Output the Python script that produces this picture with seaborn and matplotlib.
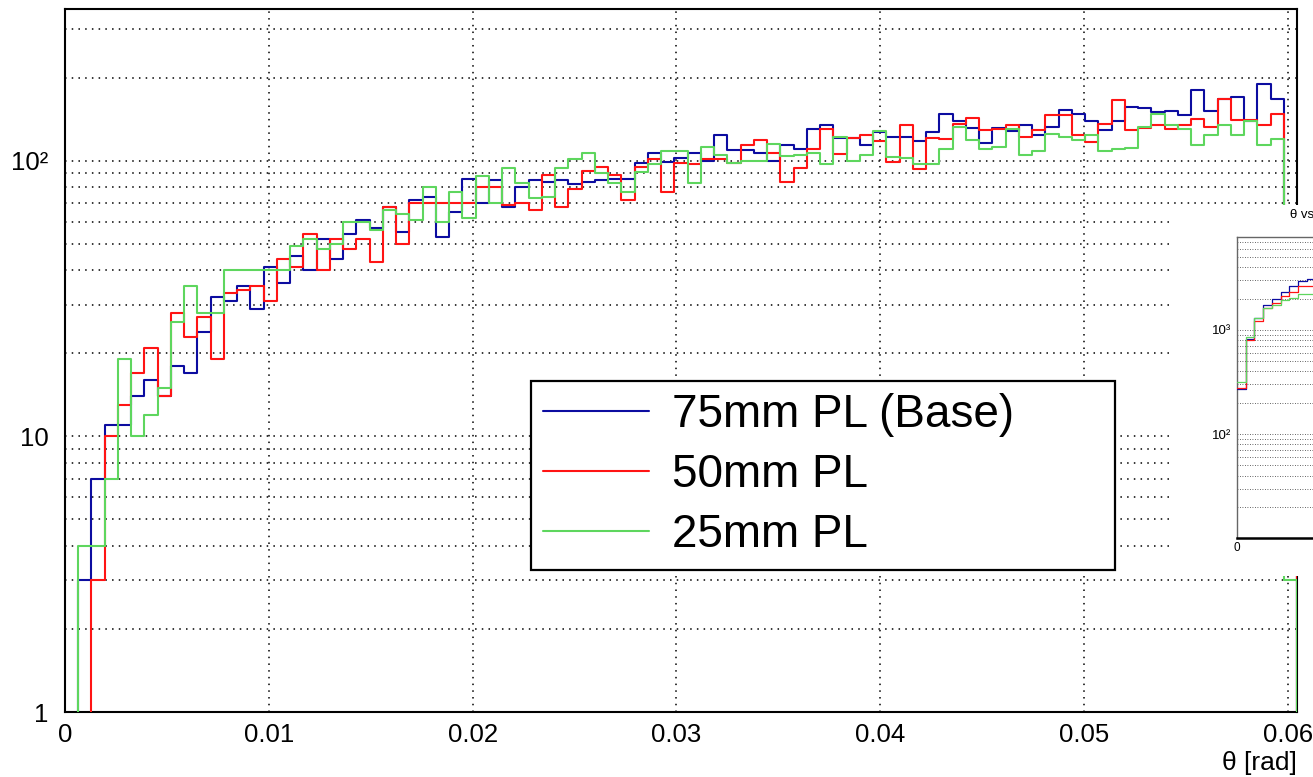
import numpy as np
import pandas as pd
import matplotlib
matplotlib.use("Agg")
import matplotlib.pyplot as plt
import matplotlib.ticker as mticker
import seaborn as sns

# ---- polar-angle histograms (0.00065 rad bins) ----
BIN_WIDTH = 0.00065
N_SHOWN = 93

counts_75 = [0, 3, 7, 11, 11, 14, 16, 14, 18, 17,
             24, 32, 31, 35, 29, 41, 36, 45, 40, 52,
             44, 54, 61, 57, 68, 55, 72, 74, 53, 65,
             86, 70, 85, 68, 80, 85, 84, 85, 82, 84,
             85, 86, 86, 98, 107, 99, 102, 107, 100, 124,
             109, 109, 107, 100, 114, 110, 130, 135, 121, 121,
             114, 127, 122, 122, 118, 127, 148, 139, 131, 116,
             131, 128, 135, 124, 133, 153, 148, 139, 129, 139,
             157, 155, 150, 151, 147, 180, 151, 168, 170, 139,
             189, 168, 25]
counts_50 = [0, 0, 3, 10, 13, 17, 21, 14, 28, 23,
             27, 19, 33, 34, 35, 31, 44, 41, 54, 40,
             52, 48, 52, 43, 68, 50, 70, 70, 70, 70,
             70, 80, 80, 69, 70, 66, 89, 68, 79, 92,
             95, 89, 72, 95, 101, 77, 98, 97, 101, 101,
             98, 114, 119, 107, 84, 94, 110, 130, 106, 121,
             124, 118, 99, 135, 93, 121, 120, 136, 143, 129,
             130, 135, 122, 129, 147, 147, 124, 117, 136, 166,
             129, 131, 135, 130, 135, 142, 133, 167, 140, 141,
             135, 148, 20]
counts_25 = [0, 4, 4, 7, 19, 10, 12, 15, 26, 35,
             28, 28, 40, 40, 40, 40, 40, 49, 52, 48,
             50, 60, 60, 56, 66, 64, 61, 80, 60, 77,
             62, 88, 70, 94, 83, 73, 74, 94, 101, 107,
             90, 83, 77, 91, 97, 108, 108, 83, 112, 105,
             98, 100, 100, 115, 104, 105, 107, 97, 122, 100,
             105, 128, 103, 102, 97, 97, 110, 133, 119, 110,
             112, 130, 105, 108, 125, 122, 119, 124, 108, 110,
             111, 133, 148, 135, 130, 114, 124, 135, 124, 139,
             114, 120, 3]

series_labels = ["75mm PL (Base)", "50mm PL", "25mm PL"]
series_colors = ["#0c0ca0", "#ff1414", "#5ed65e"]

x_ticks = [0.0, 0.01, 0.02, 0.03, 0.04, 0.05, 0.06]
x_tick_labels = ["0", "0.01", "0.02", "0.03", "0.04", "0.05", "0.06"]
y_ticks = [1, 10, 100]
y_tick_labels = ["1", "10", "10²"]

# ---- small companion panel (coarse binning) ----
inset_75 = [272, 820, 1310, 1738, 1968, 2328, 2642, 2950, 3063]
inset_50 = [280, 802, 1220, 1614, 1828, 2118, 2328, 2642, 2642]
inset_25 = [313, 863, 1295, 1614, 1738, 1941, 2014, 2214, 2214]
inset_y_ticks = [100, 1000]
inset_y_tick_labels = ["10²", "10³"]

sns.set_theme(style="white")
plt.rcParams["font.family"] = ["Liberation Sans", "DejaVu Sans"]
plt.rcParams["axes.unicode_minus"] = False
plt.rcParams["text.color"] = "black"
plt.rcParams["axes.labelcolor"] = "black"

W, H = 1313, 777
fig = plt.figure(figsize=(W / 100, H / 100), dpi=100)
fig.patch.set_facecolor("white")


def box(x0, y0, x1, y1):
    """Figure-fraction rectangle from pixel corners (top-left origin)."""
    return [x0 / W, 1 - y1 / H, (x1 - x0) / W, (y1 - y0) / H]


ax = fig.add_axes(box(65, 9, 1297, 712))
ax.set_facecolor("white")

# one empty bin after the shown range closes the outline on the frame
edges = np.arange(N_SHOWN + 2) * BIN_WIDTH
centers = 0.5 * (edges[:-1] + edges[1:])
for cnt, lab, col in zip([counts_75, counts_50, counts_25], series_labels, series_colors):
    df = pd.DataFrame({"theta": centers, "entries": list(cnt) + [0]})
    sns.histplot(data=df, x="theta", weights="entries", bins=edges.tolist(),
                 element="step", fill=False, color=col, linewidth=1.5,
                 label=lab, ax=ax, zorder=3)

ax.set_yscale("log")
ax.set_xlim(0, N_SHOWN * BIN_WIDTH)
ax.set_ylim(1, 355)
ax.set_ylabel("")

ax.xaxis.set_major_locator(mticker.FixedLocator(x_ticks))
ax.xaxis.set_major_formatter(mticker.FixedFormatter(x_tick_labels))
ax.xaxis.set_minor_locator(mticker.MultipleLocator(0.002))
ax.yaxis.set_major_locator(mticker.FixedLocator(y_ticks))
ax.yaxis.set_major_formatter(mticker.FixedFormatter(y_tick_labels))
ax.yaxis.set_minor_locator(mticker.LogLocator(base=10, subs=np.arange(2, 10)))
ax.yaxis.set_minor_formatter(mticker.NullFormatter())

ax.tick_params(axis="both", which="both", direction="in", top=False, right=False,
               color="black", labelcolor="black")
ax.tick_params(axis="x", which="major", length=14.4, width=1.4, labelsize=18.5, pad=8)
ax.tick_params(axis="x", which="minor", length=8.6, width=1.4)
ax.tick_params(axis="y", which="major", length=27, width=1.4, labelsize=18.5, pad=12)
ax.tick_params(axis="y", which="minor", length=14.4, width=1.4)

grid_kw = dict(color="black", linestyle=(0, (1, 3.4)), linewidth=1.1)
ax.grid(True, which="major", axis="x", **grid_kw)
ax.grid(True, which="both", axis="y", **grid_kw)
ax.set_axisbelow(True)

for s in ax.spines.values():
    s.set_color("black")
    s.set_linewidth(1.5)

ax.set_xlabel("θ [rad]", loc="right", fontsize=19, labelpad=3, color="black")

leg = ax.legend(loc="upper left",
                bbox_to_anchor=(531 / W, 1 - 381 / H, (1115 - 531) / W, 0),
                bbox_transform=fig.transFigure, mode="expand",
                fontsize=33, frameon=True, fancybox=False, framealpha=1,
                edgecolor="black", borderpad=0.27, labelspacing=0.35,
                handlelength=2.3, handletextpad=0.5, borderaxespad=0)
leg.get_frame().set_linewidth(1.6)
for t in leg.get_texts():
    t.set_color("black")
leg.set_zorder(10)

# ---- companion panel, drawn over the right edge ----
pad_ax = fig.add_axes(box(1172, 205, 1700, 576))
pad_ax.set_facecolor("white")
pad_ax.set_xticks([])
pad_ax.set_yticks([])
for s in pad_ax.spines.values():
    s.set_visible(False)
pad_ax.set_zorder(5)

n_in = 40
inset = fig.add_axes(box(1237, 236.7, 1237 + n_in * 8.7, 538.3))
inset.set_zorder(6)
inset.set_facecolor("white")
in_edges = np.arange(len(inset_75) + 1, dtype=float)
in_centers = 0.5 * (in_edges[:-1] + in_edges[1:])
for cnt, col in zip([inset_75, inset_50, inset_25], series_colors):
    df = pd.DataFrame({"bin": in_centers, "entries": cnt})
    sns.histplot(data=df, x="bin", weights="entries", bins=in_edges.tolist(),
                 element="step", fill=False, color=col, linewidth=0.9,
                 ax=inset, zorder=3)
inset.set_yscale("log")
inset.set_xlim(0, n_in)
inset.set_ylim(10, 7850)
inset.set_ylabel("")
inset.set_xlabel("")
inset.xaxis.set_major_locator(mticker.FixedLocator([0]))
inset.xaxis.set_major_formatter(mticker.FixedFormatter(["0"]))
inset.xaxis.set_minor_locator(mticker.FixedLocator(np.arange(2, n_in, 2)))
inset.yaxis.set_major_locator(mticker.FixedLocator(inset_y_ticks))
inset.yaxis.set_major_formatter(mticker.FixedFormatter(inset_y_tick_labels))
inset.yaxis.set_minor_locator(mticker.LogLocator(base=10, subs=np.arange(2, 10)))
inset.yaxis.set_minor_formatter(mticker.NullFormatter())
inset.tick_params(axis="both", which="both", direction="in", top=False, right=False,
                  color="black", labelcolor="black")
inset.tick_params(axis="x", which="major", length=8, width=1, labelsize=8.5, pad=3)
inset.tick_params(axis="x", which="minor", length=9, width=1)
inset.tick_params(axis="y", which="major", length=12, width=1, labelsize=9.5, pad=4)
inset.tick_params(axis="y", which="minor", length=7, width=1)
inset.grid(True, which="both", axis="y", color="#333333",
           linestyle=(0, (1, 2)), linewidth=0.6)
inset.set_axisbelow(True)
for name, s in inset.spines.items():
    s.set_color("#666666")
    s.set_linewidth(1.0)
inset.spines["bottom"].set_color("black")
inset.spines["bottom"].set_linewidth(1.8)

fig.text(1290 / W, 1 - 215 / H, "θ vs", fontsize=9.5, ha="left", va="center",
         color="black", zorder=20)

fig.savefig("out.png", dpi=100, facecolor="white")
